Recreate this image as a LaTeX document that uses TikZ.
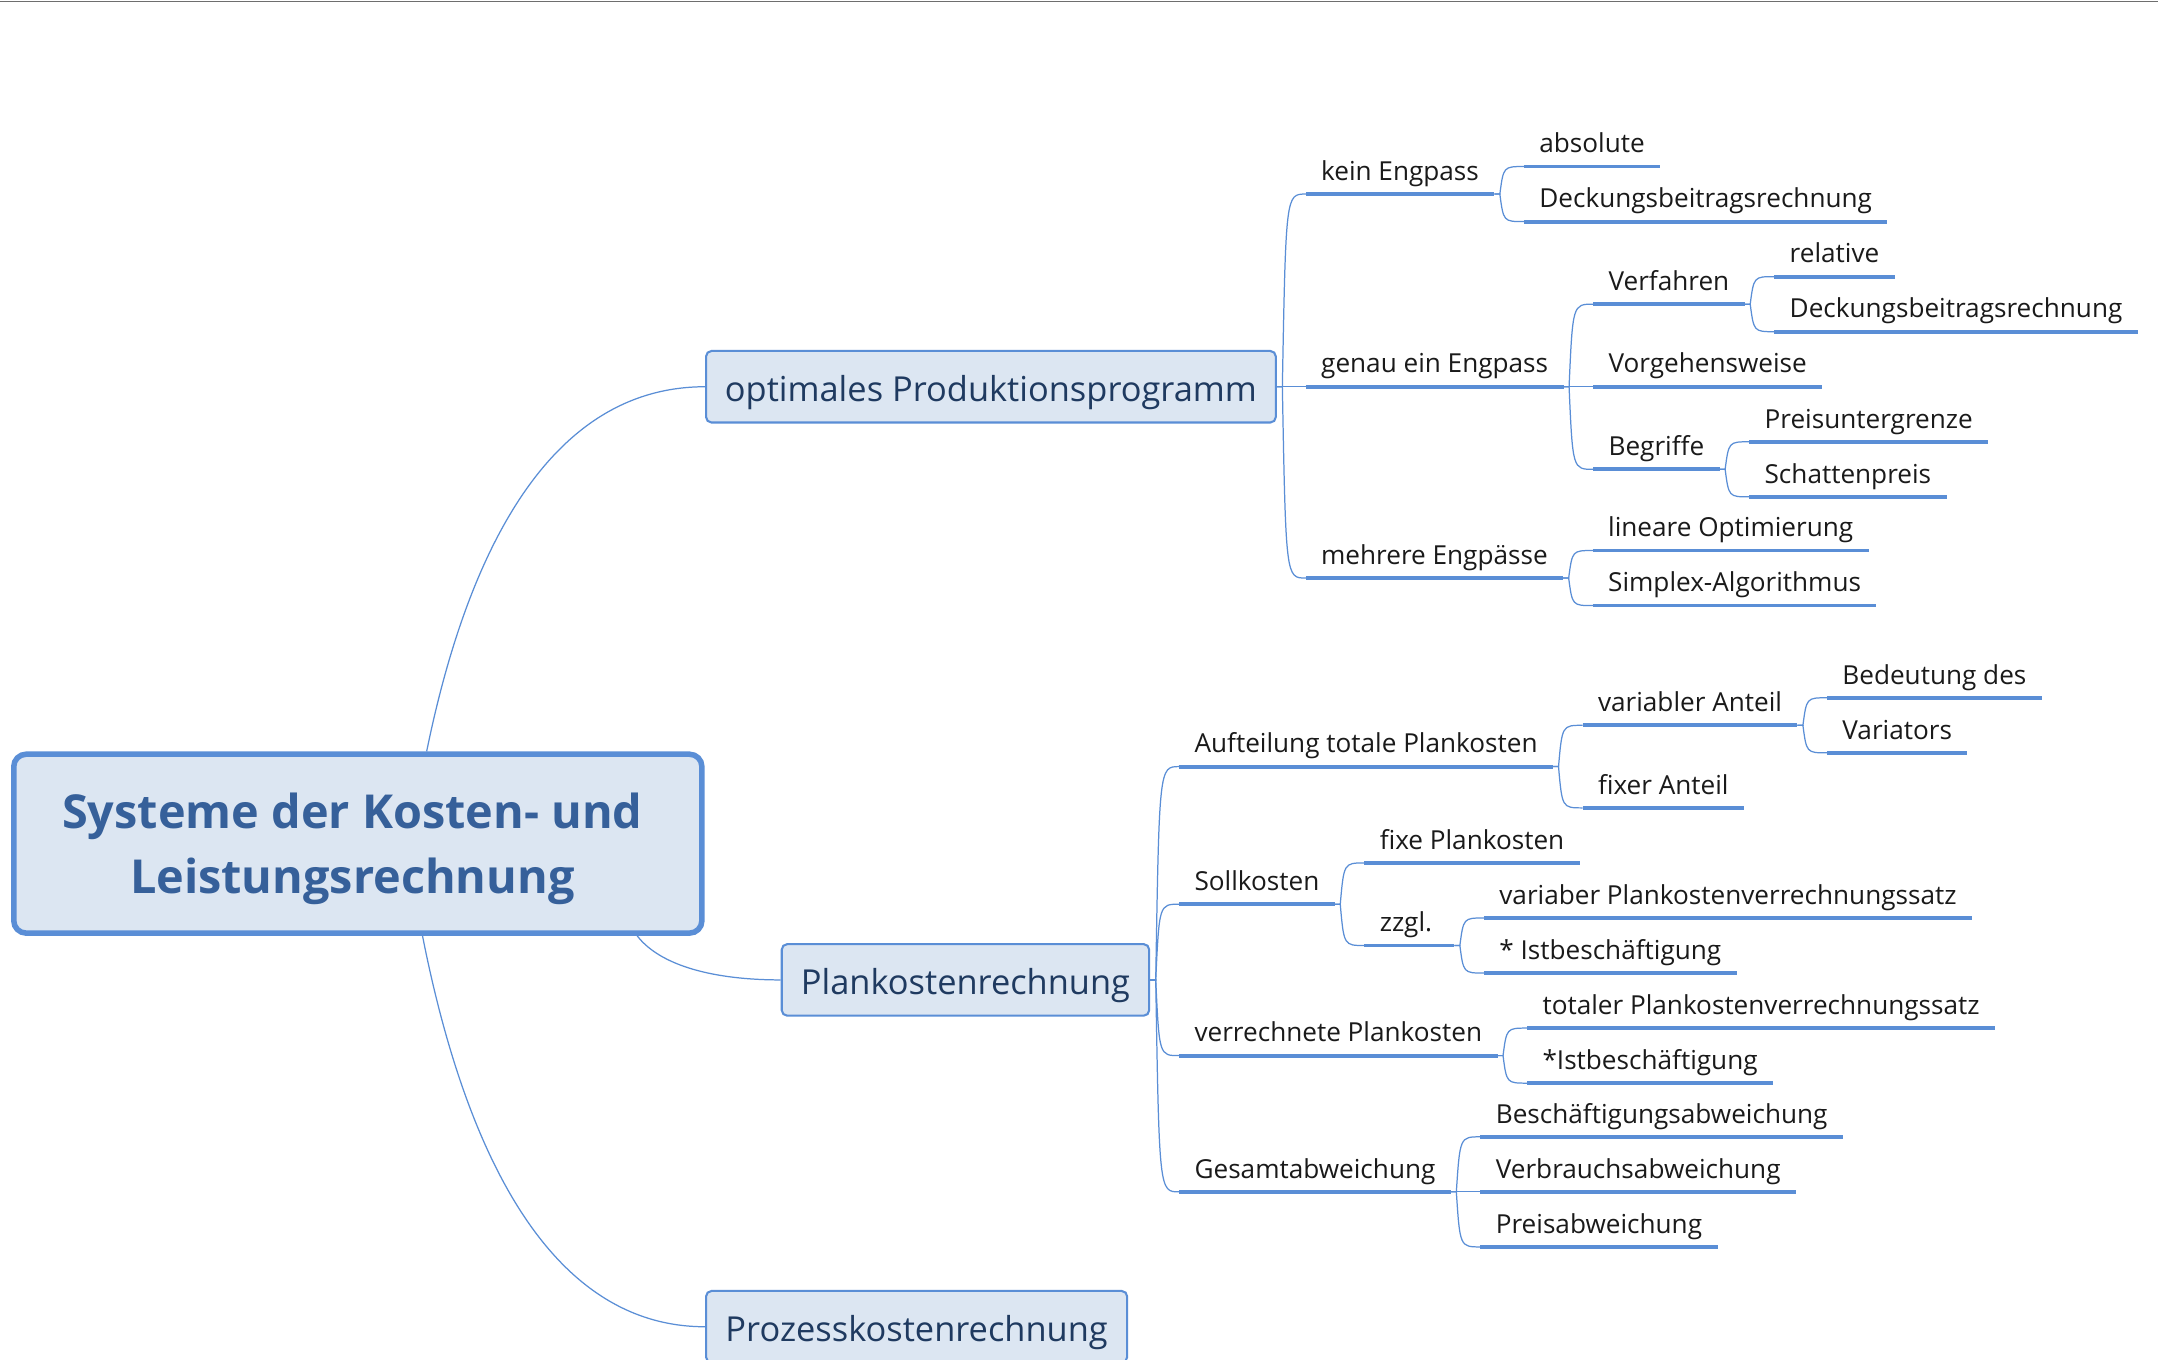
\documentclass[tikz,border=0pt]{standalone}
\usepackage{fontspec}
\setmainfont{Open Sans}
\usetikzlibrary{calc}
\definecolor{ublue}{HTML}{5A8ED6}
\definecolor{boxfill}{HTML}{DCE6F2}
\definecolor{centraltext}{HTML}{36609A}
\definecolor{boxtext}{HTML}{1F3A60}
\definecolor{leaftext}{HTML}{1A1A1A}
\definecolor{topline}{HTML}{6E6E6E}
\tikzset{
  conn/.style={draw=ublue, line width=0.9pt},
  uline/.style={draw=ublue, line width=2.8pt},
  leaf/.style={anchor=south west, inner xsep=11pt, inner ysep=9.8pt, text depth=0pt,
    font=\fontsize{19}{23}\selectfont, text=leaftext,
    append after command={(\tikzlastnode.south west) edge[uline] (\tikzlastnode.south east)}},
  topic/.style={draw=ublue, line width=1.5pt, fill=boxfill, rounded corners=4pt,
    text=boxtext, font=\fontsize{25}{29}\selectfont, minimum height=52pt, inner sep=0pt,
    text height=26pt, text depth=5pt},
  central/.style={draw=ublue, line width=4pt, fill=boxfill, rounded corners=9pt,
    minimum width=500pt, minimum height=130pt, inner sep=0pt},
  centraltxt/.style={text=centraltext, font=\bfseries\fontsize{34}{47}\selectfont, align=center},
  branch/.style={to path={let \p1=(\tikztostart), \p2=(\tikztotarget) in
    -- ++(4pt,0) .. controls ({\x1+4pt+0.15*(\x2-\x1-4pt)},\y2) .. (\p2) \tikztonodes}}
}
\begin{document}
\begin{tikzpicture}[x=1pt,y=-1pt]
\useasboundingbox (0,0) rectangle (1568,988);
\clip (0,0) rectangle (1568,988);
\fill[white] (0,0) rectangle (1568,988);
\draw[topline, line width=1pt] (0,1) -- (1568,1);

% main nodes
\node[central] (root) at (260,613) {};
\node[centraltxt] (roottext) at (256,617) {Systeme der Kosten- und\\Leistungsrechnung};
\node[topic, minimum width=414pt] (opt) at (720,281) {optimales Produktionsprogramm};
\node[topic, minimum width=267pt] (plan) at (701.5,712) {Plankostenrechnung};
\node[topic, minimum width=306pt] (proz) at (666,964) {Prozesskostenrechnung};

% root connectors
\draw[conn] ([xshift=50pt]root.north) .. controls +(30,-147) and +(-112,0) .. (opt.west);
\draw[conn] ([xshift=203pt]root.south) .. controls +(17,22) and +(-48,0) .. (plan.west);
\draw[conn] ([xshift=47pt]root.south) .. controls +(31,157) and +(-113,0) .. (proz.west);

% optimales Produktionsprogramm
\node[leaf, xshift=21pt] (kein) at (opt.east |- 0,141) {kein Engpass};
\node[leaf, xshift=21pt] (genau) at (opt.east |- 0,281) {genau ein Engpass};
\node[leaf, xshift=21pt] (mehr) at (opt.east |- 0,420) {mehrere Engpässe};
\foreach \c in {kein,genau,mehr} \draw[conn] (opt.east) to[branch] (\c.south west);

\node[leaf, xshift=21.5pt] (abs) at (kein.south east |- 0,121) {absolute};
\node[leaf, xshift=21.5pt] (dba) at (kein.south east |- 0,161) {Deckungsbeitragsrechnung};
\foreach \c in {abs,dba} \draw[conn] (kein.south east) to[branch] (\c.south west);

\node[leaf, xshift=21.5pt] (verf) at (genau.south east |- 0,221) {Verfahren};
\node[leaf, xshift=21.5pt] (vorg) at (genau.south east |- 0,281) {Vorgehensweise};
\node[leaf, xshift=21.5pt] (begr) at (genau.south east |- 0,341) {Begriffe};
\foreach \c in {verf,vorg,begr} \draw[conn] (genau.south east) to[branch] (\c.south west);

\node[leaf, xshift=21.5pt] (rel) at (verf.south east |- 0,201) {relative};
\node[leaf, xshift=21.5pt] (dbr) at (verf.south east |- 0,241) {Deckungsbeitragsrechnung};
\foreach \c in {rel,dbr} \draw[conn] (verf.south east) to[branch] (\c.south west);

\node[leaf, xshift=21.5pt] (pug) at (begr.south east |- 0,321) {Preisuntergrenze};
\node[leaf, xshift=21.5pt] (schp) at (begr.south east |- 0,361) {Schattenpreis};
\foreach \c in {pug,schp} \draw[conn] (begr.south east) to[branch] (\c.south west);

\node[leaf, xshift=21.5pt] (lin) at (mehr.south east |- 0,400) {lineare Optimierung};
\node[leaf, xshift=21.5pt] (simp) at (mehr.south east |- 0,440) {Simplex-Algorithmus};
\foreach \c in {lin,simp} \draw[conn] (mehr.south east) to[branch] (\c.south west);

% Plankostenrechnung
\node[leaf, xshift=21pt] (auft) at (plan.east |- 0,557) {Aufteilung totale Plankosten};
\node[leaf, xshift=21pt] (soll) at (plan.east |- 0,657) {Sollkosten};
\node[leaf, xshift=21pt] (verr) at (plan.east |- 0,767) {verrechnete Plankosten};
\node[leaf, xshift=21pt] (gesa) at (plan.east |- 0,866) {Gesamtabweichung};
\foreach \c in {auft,soll,verr,gesa} \draw[conn] (plan.east) to[branch] (\c.south west);

\node[leaf, xshift=21.5pt] (vant) at (auft.south east |- 0,527) {variabler Anteil};
\node[leaf, xshift=21.5pt] (fant) at (auft.south east |- 0,587) {fixer Anteil};
\foreach \c in {vant,fant} \draw[conn] (auft.south east) to[branch] (\c.south west);

\node[leaf, xshift=21.5pt] (bed) at (vant.south east |- 0,507) {Bedeutung des};
\node[leaf, xshift=21.5pt] (vari) at (vant.south east |- 0,547) {Variators};
\foreach \c in {bed,vari} \draw[conn] (vant.south east) to[branch] (\c.south west);

\node[leaf, xshift=21.5pt] (fpk) at (soll.south east |- 0,627) {fixe Plankosten};
\node[leaf, xshift=21.5pt, minimum width=65pt, align=left, text width=43pt] (zzgl) at (soll.south east |- 0,687) {zzgl.};
\foreach \c in {fpk,zzgl} \draw[conn] (soll.south east) to[branch] (\c.south west);

\node[leaf, xshift=21.5pt] (vpvs) at (zzgl.south east |- 0,667) {variaber Plankostenverrechnungssatz};
\node[leaf, xshift=21.5pt] (ist1) at (zzgl.south east |- 0,707) {* Istbeschäftigung};
\foreach \c in {vpvs,ist1} \draw[conn] (zzgl.south east) to[branch] (\c.south west);

\node[leaf, xshift=21.5pt] (tpvs) at (verr.south east |- 0,747) {totaler Plankostenverrechnungssatz};
\node[leaf, xshift=21.5pt] (ist2) at (verr.south east |- 0,787) {*Istbeschäftigung};
\foreach \c in {tpvs,ist2} \draw[conn] (verr.south east) to[branch] (\c.south west);

\node[leaf, xshift=21.5pt] (bab) at (gesa.south east |- 0,826) {Beschäftigungsabweichung};
\node[leaf, xshift=21.5pt] (vab) at (gesa.south east |- 0,866) {Verbrauchsabweichung};
\node[leaf, xshift=21.5pt] (pab) at (gesa.south east |- 0,906) {Preisabweichung};
\foreach \c in {bab,vab,pab} \draw[conn] (gesa.south east) to[branch] (\c.south west);
\end{tikzpicture}
\end{document}
